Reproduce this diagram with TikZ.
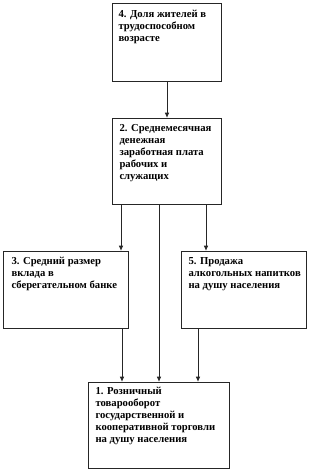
\documentclass[tikz,border=0pt]{standalone}
\usepackage{fontspec}
\setmainfont{Liberation Serif}
\usetikzlibrary{arrows.meta}
\tikzset{every picture/.style={line width=0.75pt}}
\tikzset{
  box/.style={draw=black!85, anchor=north west, inner sep=0pt},
  txt/.style={anchor=north west, inner sep=0pt, align=left, font=\fontsize{8}{9}\selectfont\bfseries},
  arr/.style={draw=black!85, -{Latex[length=4pt,width=3.5pt]}}
}

\begin{document}
\begin{tikzpicture}[x=0.75pt,y=0.75pt,yscale=-1,xscale=1]
\useasboundingbox (0,0) rectangle (311,472);

%Shape: Rectangle [4]
\node[box, minimum width=81.75pt, minimum height=58.5pt] (dolya) at (112,3) {};
%Shape: Rectangle [2]
\node[box, minimum width=81.75pt, minimum height=64.5pt] (zarplata) at (112,118) {};
%Shape: Rectangle [3]
\node[box, minimum width=93.75pt, minimum height=57.75pt] (vklad) at (3,251) {};
%Shape: Rectangle [5]
\node[box, minimum width=93.75pt, minimum height=57.75pt] (alko) at (181,251) {};
%Shape: Rectangle [1]
\node[box, minimum width=105.75pt, minimum height=64.5pt] (roznica) at (88,382) {};

% Text Node
\node[txt] (dolyaT) at ([shift={(6,7)}]dolya.north west) {4. Доля жителей в\\трудоспособном\\возрасте};
% Text Node
\node[txt] (zarplataT) at ([shift={(7,6)}]zarplata.north west) {2. Среднемесячная\\денежная\\заработная плата\\рабочих и\\служащих};
% Text Node
\node[txt] (vkladT) at ([shift={(8,6)}]vklad.north west) {3. Средний размер\\вклада в\\сберегательном банке};
% Text Node
\node[txt] (alkoT) at ([shift={(7,6)}]alko.north west) {5. Продажа\\алкогольных напитков\\на душу населения};
% Text Node
\node[txt] (roznicaT) at ([shift={(7,5)}]roznica.north west) {1. Розничный\\товарооборот\\государственной и\\кооперативной торговли\\на душу населения};

% Connectors
\coordinate (zL) at ([xshift=6.75pt]zarplata.south west);
\coordinate (zM) at ([xshift=35.25pt]zarplata.south west);
\coordinate (zR) at ([xshift=-12pt]zarplata.south east);
\coordinate (vB) at ([xshift=-5.25pt]vklad.south east);
\coordinate (aB) at ([xshift=12.75pt]alko.south west);

\draw[arr] (dolya) -- (zarplata);
\draw[arr] (zL) -- (zL |- vklad.north);
\draw[arr] (zR) -- (zR |- alko.north);
\draw[arr] (zM) -- (zM |- roznica.north);
\draw[arr] (vB) -- (vB |- roznica.north);
\draw[arr] (aB) -- (aB |- roznica.north);

\end{tikzpicture}
\end{document}
